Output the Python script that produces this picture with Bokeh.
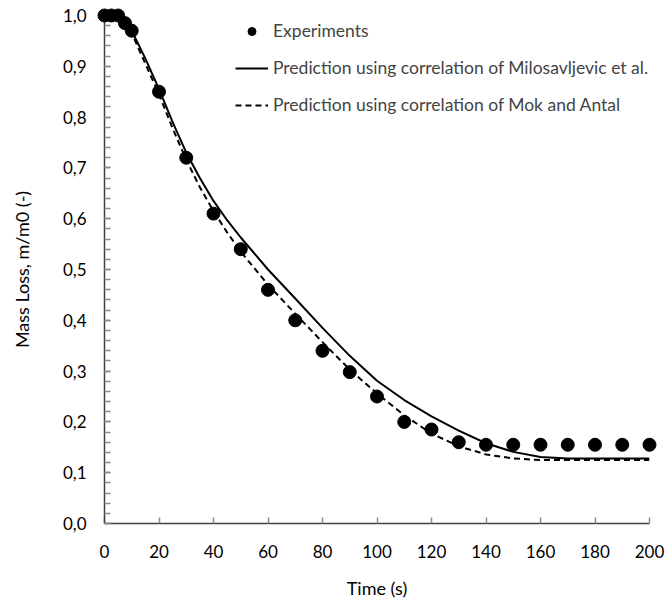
from bokeh.plotting import figure
from bokeh.models import (Range1d, SingleIntervalTicker, CustomJSTickFormatter,
                          Legend, LegendItem, ColumnDataSource)
from bokeh.embed import file_html
from bokeh.resources import INLINE

# Measured mass loss during the experiment
exp_time = [0, 2.5, 5, 7.5, 10, 20, 30, 40, 50, 60, 70, 80, 90, 100, 110, 120,
            130, 140, 150, 160, 170, 180, 190, 200]
exp_mass = [1.0, 1.0, 1.0, 0.985, 0.97, 0.85, 0.72, 0.61, 0.54, 0.46, 0.40, 0.34,
            0.298, 0.25, 0.20, 0.185, 0.16, 0.155, 0.155, 0.155, 0.155, 0.155,
            0.155, 0.155]

# Model predictions
model_time = [0, 5, 10, 15, 20, 25, 30, 35, 40, 45, 50, 60, 70, 80, 90, 100,
              110, 120, 130, 140, 150, 160, 170, 180, 190, 200]
milosavljevic = [1.0, 0.995, 0.97, 0.915, 0.855, 0.79, 0.73, 0.68, 0.635, 0.597,
                 0.563, 0.50, 0.443, 0.385, 0.330, 0.281, 0.243, 0.211, 0.183,
                 0.158, 0.141, 0.131, 0.128, 0.128, 0.128, 0.128]
mok_antal = [1.0, 0.993, 0.965, 0.905, 0.845, 0.778, 0.716, 0.662, 0.615, 0.573,
             0.535, 0.47, 0.413, 0.357, 0.303, 0.256, 0.213, 0.177, 0.152, 0.136,
             0.128, 0.125, 0.125, 0.125, 0.125, 0.125]

labels = ["Experiments",
          "Prediction using correlation of Milosavljevic et al.",
          "Prediction using correlation of Mok and Antal"]

FONT = "Lato"

p = figure(width=666, height=603, output_backend="svg", toolbar_location=None,
           x_range=Range1d(0, 200), y_range=Range1d(0, 1),
           min_border_left=104, min_border_right=17,
           min_border_top=15, min_border_bottom=80)
p.outline_line_color = None
p.grid.visible = False
p.background_fill_color = "white"
p.border_fill_color = "white"

src_exp = ColumnDataSource(dict(t=exp_time, m=exp_mass))
src_mod = ColumnDataSource(dict(t=model_time, a=milosavljevic, b=mok_antal))

r_solid = p.line("t", "a", source=src_mod, line_color="black", line_width=2,
                 line_join="round")
r_dash = p.line("t", "b", source=src_mod, line_color="black", line_width=2,
                line_dash="6 4")
r_pts = p.scatter("t", "m", source=src_exp, size=13, fill_color="black",
                  line_color="black", marker="circle")
r_pts.level = "overlay"

# Axes
xa = p.xaxis[0]
xa.ticker = SingleIntervalTicker(interval=20, num_minor_ticks=0)
xa.axis_label = "Time (s)"
ya = p.yaxis[0]
ya.ticker = SingleIntervalTicker(interval=0.1, num_minor_ticks=5)
ya.formatter = CustomJSTickFormatter(code="return tick.toFixed(1).replace('.', ',')")
ya.axis_label = "Mass Loss, m/m0 (-)"

for ax in (xa, ya):
    ax.axis_line_color = "#404040"
    ax.axis_line_width = 1.5
    ax.major_tick_line_color = "#8a8a8a"
    ax.minor_tick_line_color = "#8a8a8a"
    ax.major_tick_line_width = 1.5
    ax.minor_tick_line_width = 1.5
    ax.major_tick_in = 6
    ax.major_tick_out = 0
    ax.minor_tick_in = 6
    ax.minor_tick_out = 0
    ax.major_label_text_font = FONT
    ax.major_label_text_font_size = "17px"
    ax.major_label_text_color = "black"
    ax.axis_label_text_font = FONT
    ax.axis_label_text_font_size = "18px"
    ax.axis_label_text_font_style = "normal"
    ax.axis_label_text_color = "black"

xa.major_label_standoff = 21
xa.axis_label_standoff = 16
ya.major_label_standoff = 18
ya.axis_label_standoff = 27

legend = Legend(items=[LegendItem(label=labels[0], renderers=[r_pts]),
                       LegendItem(label=labels[1], renderers=[r_solid]),
                       LegendItem(label=labels[2], renderers=[r_dash])],
                location=(131, 408), padding=0, margin=0, spacing=16,
                glyph_width=33, glyph_height=20, label_height=20,
                label_standoff=5, label_text_font=FONT,
                label_text_font_size="17.5px", border_line_alpha=0,
                background_fill_alpha=0)
p.add_layout(legend)

open("out.html", "w").write(file_html(p, INLINE))
